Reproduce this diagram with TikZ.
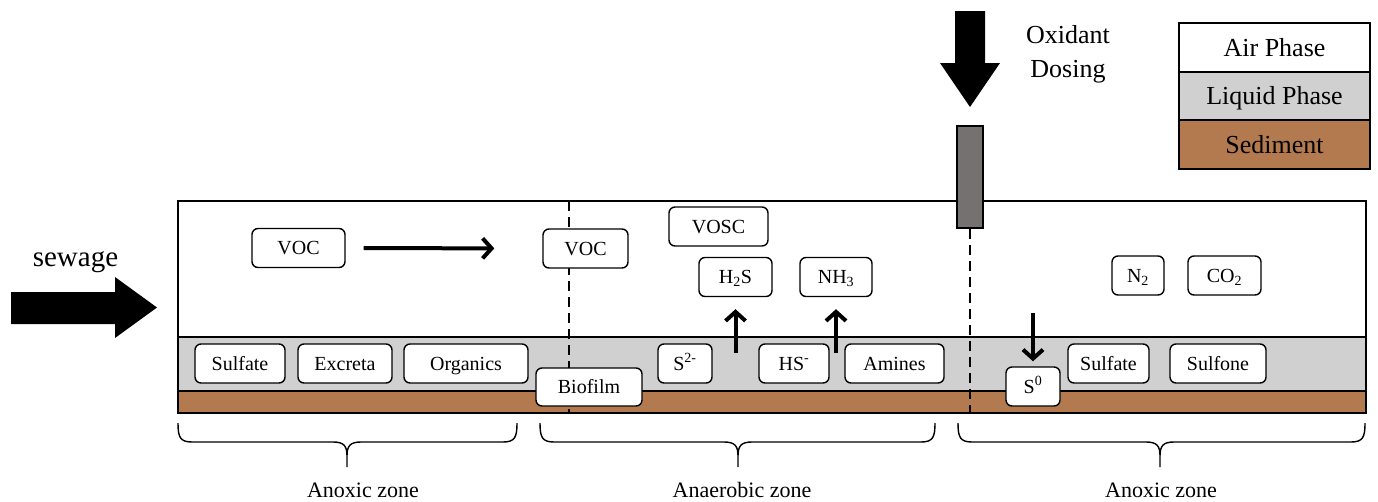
\documentclass[tikz,border=0pt]{standalone}
\usepackage{fontspec}
\setmainfont{Liberation Serif}
\usetikzlibrary{arrows.meta}
\definecolor{sed}{HTML}{B47A4F}
\definecolor{liq}{HTML}{D0D0D0}
\definecolor{dosebar}{HTML}{767171}
\newcommand\zonebrace[3]{%
  \draw[bracepath] (#1,423) .. controls (#1,437) and (#1+2,442) .. (#1+14,442)
    -- (#2-14,442) .. controls (#2-3,442) and (#2,446) .. (#2,456) -- (#2,467)
    (#2,456) .. controls (#2,446) and (#2+3,442) .. (#2+14,442)
    -- (#3-14,442) .. controls (#3-2,442) and (#3,437) .. (#3,423);}
\begin{document}
\begin{tikzpicture}[x=1pt,y=-1pt,
  lbl/.style={draw=black, line width=1.4pt, fill=white, rounded corners=6pt,
    inner sep=0pt, minimum height=39pt, text height=13pt, text depth=0pt,
    font=\fontsize{20}{24}\selectfont},
  flow/.style={line width=4pt, -{Straight Barb[length=9pt,width=20pt]}},
  zonetxt/.style={font=\fontsize{22}{26}\selectfont, anchor=base},
  bracepath/.style={line width=1.4pt},
  legbox/.style={draw=black, line width=2pt, minimum width=191pt,
    minimum height=48.5pt, inner sep=0pt, text height=18pt, text depth=0pt,
    font=\fontsize{26}{30}\selectfont},
  bigtxt/.style={font=\fontsize{26}{30}\selectfont, anchor=base},
  dashline/.style={line width=1.5pt, dash pattern=on 10pt off 6pt},
]
\useasboundingbox (0,0) rectangle (1378,501);

% layers of the sewer
\fill[white] (178,201) rectangle (1366,337);
\fill[liq] (178,337) rectangle (1366,391);
\fill[sed] (178,391) rectangle (1366,413);
\draw[line width=1.5pt] (178,337) -- (1366,337);
\draw[line width=1.5pt] (178,391) -- (1366,391);
\draw[line width=2pt] (178,201) rectangle (1366,413);

% dosing bar and dashed zone borders
\node[draw=black, line width=1.5pt, fill=dosebar, minimum width=26pt,
  minimum height=102pt, inner sep=0pt] (dose) at (970,177) {};
\coordinate (bot1) at (569,413);
\coordinate (top1) at (569,201);
\coordinate (bot2) at (970,413);
\draw[dashline] (top1) -- (bot1);
\draw[dashline] (dose.south) -- (bot2);

% big arrows
\fill (955,11) -- (985,11) -- (985,63) -- (1000,63) -- (970,107) -- (940,63) -- (955,63) -- cycle;
\fill (11,292) -- (115,292) -- (115,277) -- (157,307.5) -- (115,338) -- (115,324) -- (11,324) -- cycle;

\node[font=\fontsize{29}{34}\selectfont, anchor=base] (sewtxt) at (75.5,266) {sewage};
\node[bigtxt] (oxi) at (1068,43) {Oxidant};
\node[bigtxt] (dos) at (1068,77) {Dosing};

% legend
\node[legbox, fill=white] (legair) at (1274.5,47.25) {Air Phase};
\node[legbox, fill=liq] (legliq) at (1274.5,95.75) {Liquid Phase};
\node[legbox, fill=sed] (legsed) at (1274.5,144.25) {Sediment};

% air phase nodes
\node[lbl, minimum width=93pt] (voc1) at (298.5,248) {VOC};
\node[lbl, minimum width=85pt] (voc2) at (585.5,248.5) {VOC};
\node[lbl, minimum width=99pt] (vosc) at (718.5,226.5) {VOSC};
\node[lbl, minimum width=73pt] (h2s) at (735.5,277) {H\textsubscript{2}S};
\node[lbl, minimum width=72pt] (nh3) at (836,277) {NH\textsubscript{3}};
\node[lbl, minimum width=52pt] (n2) at (1138,275.5) {N\textsubscript{2}};
\node[lbl, minimum width=73pt] (co2) at (1224.5,275.5) {CO\textsubscript{2}};

% liquid phase nodes
\node[lbl, minimum width=90pt] (sulf1) at (240,363.5) {Sulfate};
\node[lbl, minimum width=94pt] (excr) at (345,363.5) {Excreta};
\node[lbl, minimum width=124pt] (orga) at (466,363.5) {Organics};
\node[lbl, minimum width=106pt, minimum height=38pt] (biof) at (589,387) {Biofilm};
\node[lbl, minimum width=54pt] (s2) at (685,363.5) {S\textsuperscript{2-}};
\node[lbl, minimum width=70pt] (hs) at (794,363.5) {HS\textsuperscript{-}};
\node[lbl, minimum width=99pt] (amin) at (894.5,363.5) {Amines};
\node[lbl, minimum width=54pt] (s0) at (1033,386.5) {S\textsuperscript{0}};
\node[lbl, minimum width=81pt] (sulf2) at (1108.5,363.5) {Sulfate};
\node[lbl, minimum width=96pt] (sulfo) at (1218,363.5) {Sulfone};

% small arrows
\coordinate (liqmid) at (0,353);
\coordinate (downtop) at (0,313);
\draw[flow, shorten <=18pt, shorten >=48pt] (voc1.east) -- (voc2.west);
\draw[flow, shorten >=12pt] (h2s.south |- liqmid) -- (h2s.south);
\draw[flow, shorten >=12pt] (nh3.south |- liqmid) -- (nh3.south);
\draw[flow, shorten >=5pt] (s0.north |- downtop) -- (s0.north);

% zone braces
\zonebrace{178}{347}{517}
\zonebrace{540}{738}{935}
\zonebrace{958}{1160}{1365}
\node[zonetxt] (z1) at (363,497) {Anoxic zone};
\node[zonetxt] (z2) at (742,497) {Anaerobic zone};
\node[zonetxt] (z3) at (1161,497) {Anoxic zone};
\end{tikzpicture}
\end{document}
